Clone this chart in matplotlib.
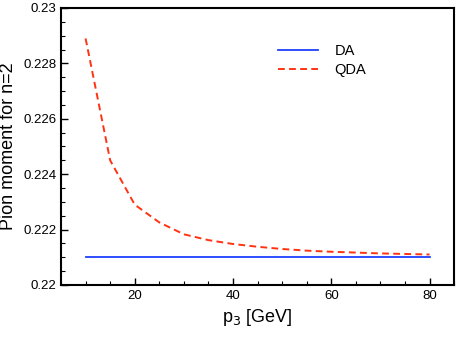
import matplotlib
matplotlib.use("Agg")
import matplotlib.pyplot as plt
from matplotlib.ticker import MultipleLocator

plt.rcParams['font.family'] = ['Liberation Sans', 'DejaVu Sans']

p3 = [10, 15, 20, 25, 30, 35, 40, 45, 50, 55, 60, 65, 70, 75, 80]
da = [0.2210] * len(p3)
qda = [0.2289, 0.2245, 0.2229, 0.22226, 0.22183, 0.22162, 0.22148, 0.22138,
       0.2213, 0.22124, 0.2212, 0.22117, 0.22114, 0.22112, 0.2211]

fig = plt.figure(figsize=(4.63, 3.47), dpi=100)
ax = fig.add_axes([0.1318, 0.1787, 0.849, 0.7983])

ax.plot(p3, da, color='#1f3fff', lw=1.3, label='DA')
ax.plot(p3, qda, color='#ff3311', lw=1.4, ls=(0, (3.5, 2.2)), label='QDA')

ax.set_xlim(5, 85)
ax.set_ylim(0.22, 0.23)
ax.xaxis.set_major_locator(MultipleLocator(20))
ax.xaxis.set_minor_locator(MultipleLocator(5))
ax.yaxis.set_major_locator(MultipleLocator(0.002))
ax.yaxis.set_minor_locator(MultipleLocator(0.0005))
ax.yaxis.set_major_formatter(plt.FuncFormatter(lambda v, p: f"{v:.3f}".rstrip('0')))

ax.tick_params(which='both', direction='in', top=False, right=False, labelsize=9.5)
ax.tick_params(which='major', length=5, width=1)
ax.tick_params(which='minor', length=3, width=0.8)
for s in ax.spines.values():
    s.set_linewidth(1.5)

ax.set_xlabel(r'p$_3$ [GeV]', fontsize=13, labelpad=4)
ax.set_ylabel('Pion moment for n=2', fontsize=13, labelpad=4)

ax.legend(loc='upper left', bbox_to_anchor=(0.519, 0.918), frameon=False,
          fontsize=10.5, handlelength=2.7, handletextpad=1.15, labelspacing=0.35)

fig.savefig('out.png', dpi=100)
